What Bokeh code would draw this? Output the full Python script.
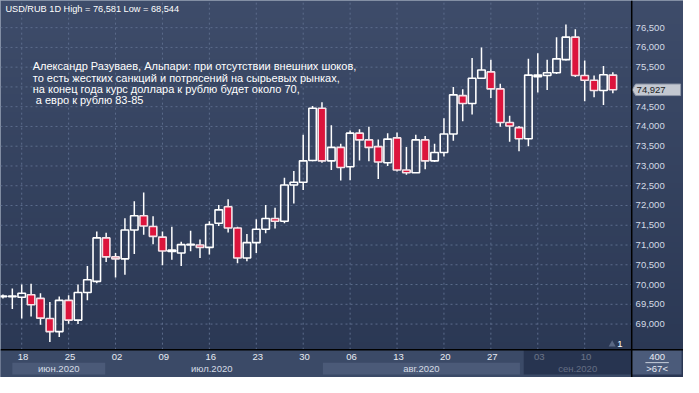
import numpy as np
from bokeh.plotting import figure
from bokeh.models import ColumnDataSource, Range1d
from bokeh.core.properties import value
from bokeh.embed import file_html
from bokeh.resources import INLINE

# ---------------- data (USD/RUB daily candles) ----------------
dates = ["16.06", "17.06", "18.06", "19.06", "22.06", "23.06", "24.06", "25.06", "26.06", "29.06", "30.06",
         "01.07", "02.07", "03.07", "06.07", "07.07", "08.07", "09.07", "10.07", "13.07", "14.07", "15.07",
         "16.07", "17.07", "20.07", "21.07", "22.07", "23.07", "24.07", "27.07", "28.07", "29.07", "30.07",
         "31.07", "03.08", "04.08", "05.08", "06.08", "07.08", "10.08", "11.08", "12.08", "13.08", "14.08",
         "17.08", "18.08", "19.08", "20.08", "21.08", "24.08", "25.08", "26.08", "27.08", "28.08", "31.08",
         "01.09", "02.09", "03.09", "04.09", "07.09", "08.09", "09.09", "10.09", "11.09", "14.09", "15.09"]
opens = [69.69, 69.69, 69.68, 69.74, 69.65, 69.14, 68.81, 69.60, 69.10, 69.80, 70.08,
         71.18, 70.70, 70.65, 71.38, 71.74, 71.47, 71.20, 70.84, 70.80, 71.00, 71.00,
         70.94, 71.55, 71.97, 71.43, 70.67, 71.06, 71.40, 71.67, 71.60, 72.52, 72.59,
         73.14, 74.46, 73.13, 73.47, 72.98, 73.83, 73.66, 73.49, 73.08, 73.71, 72.90,
         72.83, 73.66, 73.13, 73.34, 73.81, 74.78, 74.58, 75.22, 75.38, 74.95, 74.10,
         73.97, 73.69, 75.26, 75.29, 75.36, 75.69, 76.26, 75.29, 75.17, 74.91, 75.30]
highs = [69.75, 69.90, 70.00, 70.02, 69.78, 69.56, 69.70, 69.73, 70.00, 70.47, 71.34,
         71.31, 70.80, 71.68, 72.11, 72.33, 71.73, 71.34, 71.46, 71.08, 71.36, 71.14,
         71.60, 72.01, 72.16, 71.46, 71.28, 71.65, 72.01, 71.94, 72.70, 72.87, 73.79,
         74.52, 74.61, 74.03, 73.56, 73.90, 73.93, 73.99, 73.67, 73.83, 73.85, 73.48,
         73.79, 73.76, 73.56, 74.21, 75.00, 74.94, 75.73, 76.00, 75.69, 75.08, 74.27,
         74.01, 75.71, 75.85, 75.69, 76.26, 76.581, 76.46, 75.67, 75.29, 75.53, 75.37]
lows = [69.65, 69.38, 69.14, 69.19, 68.98, 68.544, 68.67, 69.01, 69.00, 69.60, 70.03,
        70.57, 70.18, 70.25, 70.77, 71.26, 71.02, 70.49, 70.63, 70.47, 70.84, 70.67,
        70.76, 71.48, 71.32, 70.54, 70.59, 70.80, 71.30, 71.42, 71.55, 72.05, 72.39,
        73.12, 73.08, 72.90, 72.63, 72.64, 73.14, 73.12, 72.67, 73.00, 72.86, 72.78,
        72.82, 72.92, 73.10, 73.24, 73.64, 74.13, 74.30, 75.20, 74.72, 73.99, 73.61,
        73.37, 73.50, 74.86, 74.92, 75.33, 75.67, 75.25, 74.64, 74.74, 74.54, 74.84]
closes = [69.71, 69.71, 69.78, 69.49, 69.15, 68.81, 69.60, 69.10, 69.80, 70.12, 71.18,
          70.70, 70.65, 71.38, 71.74, 71.48, 71.22, 70.85, 70.87, 71.01, 71.02, 70.94,
          71.52, 71.89, 71.43, 70.67, 71.06, 71.40, 71.67, 71.60, 72.52, 72.59, 73.13,
          74.46, 73.13, 73.47, 72.96, 73.83, 73.66, 73.47, 73.10, 73.68, 72.90, 72.83,
          73.66, 73.13, 73.34, 73.81, 74.80, 74.58, 75.22, 75.43, 74.95, 74.10, 74.01,
          73.69, 75.30, 75.30, 75.36, 75.71, 76.26, 75.29, 75.17, 74.91, 75.31, 74.927]

tick_days = [2, 7, 12, 17, 22, 27, 32, 37, 42, 47, 52, 57, 62]
tick_labels = ["18", "25", "02", "09", "16", "23", "30", "06", "13", "20", "27", "03", "10"]

price_ticks = [69.0, 69.5, 70.0, 70.5, 71.0, 71.5, 72.0, 72.5, 73.0, 73.5, 74.0, 74.5, 75.0, 75.5, 76.0, 76.5]
price_labels = ["69,000", "69,500", "70,000", "70,500", "71,000", "71,500", "72,000", "72,500",
                "73,000", "73,500", "74,000", "74,500", "75,000", "75,500", "76,000", "76,500"]

month_names = ["июн.2020", "июл.2020", "авг.2020", "сен.2020"]
month_left = [1.0, 10.9, 34.1, 55.5]
month_right = [10.9, 33.6, 55.1, 67.0]

title_text = "USD/RUB 1D High = 76,581 Low = 68,544"
quote_lines = ["Александр Разуваев, Альпари: при отсутствии внешних шоков,",
               "то есть жестких санкций и потрясений на сырьевых рынках,",
               "на конец года курс доллара к рублю будет около 70,",
               "\u00a0а евро к рублю 83-85"]
last_price = 74.927
last_label = "74,927"
counter_text = "1"
corner_top, corner_bottom = "400", ">67<"

# ---------------- layout helpers (reference pixels -> data units) ----------------
W, H = 683, 377
def X(px):
    return (px - 2.5) / 9.603
def Y(py):
    return 76.5 - (py - 28.3) / 41.2

XL, XR = X(0), X(699)
YB, YT = Y(393), Y(0)
PR = X(646)     # right edge of price pane
PB = Y(364)     # bottom edge of price pane

FONT = "Liberation Sans"
RED = "#dc143c"
GRID = "#5c6c8c"

p = figure(width=W, height=H, output_backend="svg", toolbar_location=None,
           x_range=Range1d(XL, XR), y_range=Range1d(YB, YT),
           x_axis_type=None, y_axis_type=None, min_border=0)
p.background_fill_color = "#34425f"
p.border_fill_color = "#34425f"
p.outline_line_color = "#9ba6b9"
p.outline_line_width = 4

# vertical gradient background
n = 64
t = np.linspace(0.0, 1.0, n)[:, None]
top_c = np.array([62.0, 76.0, 106.0])
bot_c = np.array([42.0, 55.0, 83.0])
rgb = (bot_c + (top_c - bot_c) * t).astype(np.uint8)
img = np.zeros((n, 1), dtype=np.uint32)
view = img.view(dtype=np.uint8).reshape((n, 1, 4))
view[:, 0, 0] = rgb[:, 0]
view[:, 0, 1] = rgb[:, 1]
view[:, 0, 2] = rgb[:, 2]
view[:, 0, 3] = 255
p.image_rgba(image=[img], x=XL, y=YB, dw=XR - XL, dh=YT - YB, level="image")

# grid lines (price pane only)
p.segment(x0=XL, y0=price_ticks, x1=PR, y1=price_ticks, line_color=GRID, line_dash="2 3", line_width=1)
p.segment(x0=tick_days, y0=PB, x1=tick_days, y1=YT, line_color=GRID, line_dash="2 3", line_width=1)

# ---------------- candles ----------------
o = np.array(opens); c = np.array(closes); hi = np.array(highs); lo = np.array(lows)
x = np.arange(len(o))
up = c >= o
top = np.maximum(o, c); bot = np.minimum(o, c)
src = ColumnDataSource(dict(x=x, top=top, bot=bot, hi=hi, lo=lo,
                            fill=np.where(up, "#34425f", RED).tolist(),
                            falpha=np.where(up, 0.0, 1.0).tolist(),
                            line=np.where(up, "#ffffff", "#f4e2e7").tolist()))
p.segment(x0="x", y0="top", x1="x", y1="hi", source=src, line_color="#ffffff", line_width=1.5)
p.segment(x0="x", y0="bot", x1="x", y1="lo", source=src, line_color="#ffffff", line_width=1.5)
p.vbar(x="x", width=0.8, top="top", bottom="bot", source=src, fill_color="fill",
       fill_alpha="falpha", line_color="line", line_width=1.6)

# ---------------- texts in the pane ----------------
p.text(x=[X(5)], y=[Y(8.5)], text=[title_text], text_color="#ffffff", text_font=value(FONT),
       text_font_size="9.2px", text_baseline="middle", text_align="left")
quote_y = [Y(68.5), Y(80.5), Y(92.5), Y(104.0)]
p.text(x=[X(33)] * 4, y=quote_y, text=quote_lines, text_color="#ffffff", text_font=value(FONT),
       text_font_size="11px", text_baseline="middle", text_align="left")

p.scatter(x=[X(626)], y=[Y(358.5)], marker="triangle", size=7, fill_color="#5a6884", line_color=None)
p.text(x=[X(634)], y=[Y(358)], text=[counter_text], text_color="#ffffff", text_font=value(FONT),
       text_font_size="9.5px", text_baseline="middle", text_align="center")

# ---------------- time axis area ----------------
p.quad(left=XL, right=PR, bottom=YB, top=PB, fill_color="#3b4a67", line_color=None)
band_idx = [0, 2]
p.quad(left=[month_left[i] for i in band_idx], right=[month_right[i] for i in band_idx],
       bottom=Y(390), top=Y(377.5), fill_color="#4b5a78", line_color=None)
p.text(x=np.array(tick_days) + 0.15, y=Y(371.5), text=tick_labels, text_color="#e8ecf3",
       text_font=value(FONT), text_font_size="9.5px", text_baseline="middle", text_align="center")
centers = [(a + b) / 2 for a, b in zip(month_left, month_right)]
p.text(x=centers, y=Y(383.5), text=month_names, text_color="#d6dce6",
       text_font=value(FONT), text_font_size="9.5px", text_baseline="middle", text_align="center")
# current (September) section is shaded darker
p.quad(left=[month_left[3]], right=[PR], bottom=Y(390), top=Y(364.5), fill_color="#1b2742",
       fill_alpha=0.62, line_color=None)

# ---------------- price axis area ----------------
p.text(x=X(650), y=price_ticks, text=price_labels, text_color="#d4dae6",
       text_font=value(FONT), text_font_size="9.5px", text_baseline="middle", text_align="left")
dh = 6.0 / 41.2
p.patch(x=[X(646.5), X(650), X(696), X(696), X(650)],
        y=[last_price, last_price + dh, last_price + dh, last_price - dh, last_price - dh],
        fill_color="#c3c8d1", line_color="#8e97a8", line_width=1)
p.text(x=[X(651)], y=[last_price], text=[last_label], text_color="#1c1f26",
       text_font=value(FONT), text_font_size="9.5px", text_baseline="middle", text_align="left")

# corner box
p.quad(left=PR, right=X(697), bottom=Y(390), top=PB, fill_color="#4b5b7a", line_color=None)
p.segment(x0=X(660), y0=Y(377.5), x1=X(684), y1=Y(377.5), line_color="#c8d0dc", line_width=1)
p.text(x=[X(672), X(672)], y=[Y(371.5), Y(383.5)], text=[corner_top, corner_bottom],
       text_color="#e6eaf2", text_font=value(FONT), text_font_size="9.5px",
       text_baseline="middle", text_align="center")

# pane separators
p.segment(x0=PR, y0=YB, x1=PR, y1=YT, line_color="black", line_width=1.5)
p.segment(x0=XL, y0=PB, x1=XR, y1=PB, line_color="black", line_width=1.5)

open("out.html", "w").write(file_html(p, INLINE))
